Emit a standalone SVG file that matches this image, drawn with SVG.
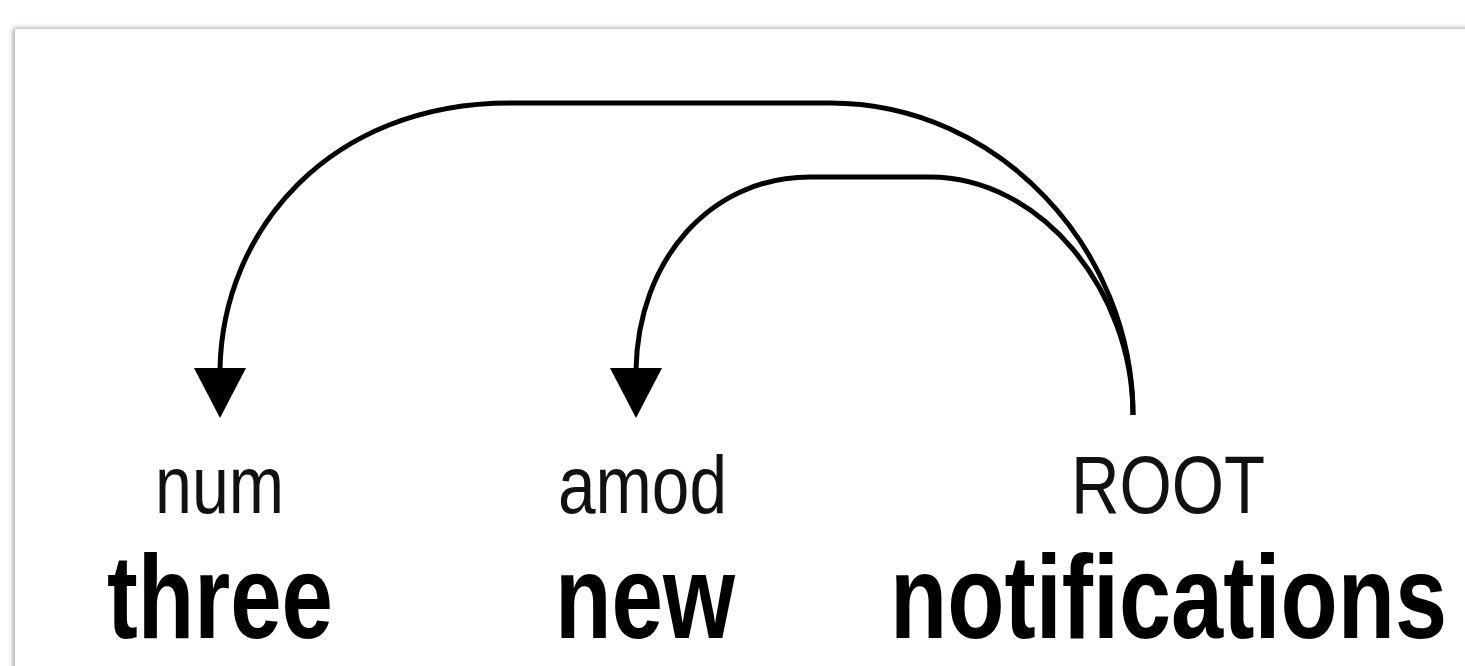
<svg xmlns="http://www.w3.org/2000/svg" width="1465" height="666" viewBox="0 0 1465 666">
<defs>
<filter id="sh" x="-5%" y="-5%" width="110%" height="110%">
<feDropShadow dx="-2" dy="-1" stdDeviation="2.5" flood-color="#000" flood-opacity="0.35"/>
</filter>
<marker id="ah" viewBox="0 0 50 50" refX="25" refY="50" markerWidth="50" markerHeight="50" markerUnits="userSpaceOnUse" orient="auto-start-reverse">
<path d="M0,0 L50,0 L25,50 Z" fill="#000"/>
</marker>
<style>
.lab{font-family:"Liberation Sans",Arial,sans-serif;font-size:82px;fill:#111;text-anchor:start}
.word{font-family:"Liberation Sans",Arial,sans-serif;font-size:118px;font-weight:bold;fill:#000}
.arc{fill:none;stroke:#000;stroke-width:5}
</style>
</defs>
<rect width="1465" height="666" fill="#fff"/>
<rect x="15" y="29" width="1470" height="660" fill="#fff" filter="url(#sh)"/>
<g id="connectors">
<path class="arc" d="M1133,415 C1133,250 1000,103 830,103 L510,103 C330,103 222,230 220,370"/>
<path class="arc" d="M1133,415 C1133,290 1040,177 930,177 L810,177 C710,177 638,260 636,370"/>
<path d="M194,368 L246,368 L220,418 Z" fill="#000"/>
<path d="M610,368 L662,368 L636,418 Z" fill="#000"/>
</g>
<g id="node-three">
<text class="lab" x="155" y="513" textLength="129" lengthAdjust="spacingAndGlyphs">num</text>
<text class="word" x="107" y="638" textLength="226" lengthAdjust="spacingAndGlyphs">three</text>
</g>
<g id="node-new">
<text class="lab" x="558" y="513" textLength="169" lengthAdjust="spacingAndGlyphs">amod</text>
<text class="word" x="555" y="638" textLength="180" lengthAdjust="spacingAndGlyphs">new</text>
</g>
<g id="node-notifications">
<text class="lab" x="1071" y="513" textLength="194" lengthAdjust="spacingAndGlyphs">ROOT</text>
<text class="word" x="890" y="638" textLength="557" lengthAdjust="spacingAndGlyphs">notifications</text>
</g>
</svg>
